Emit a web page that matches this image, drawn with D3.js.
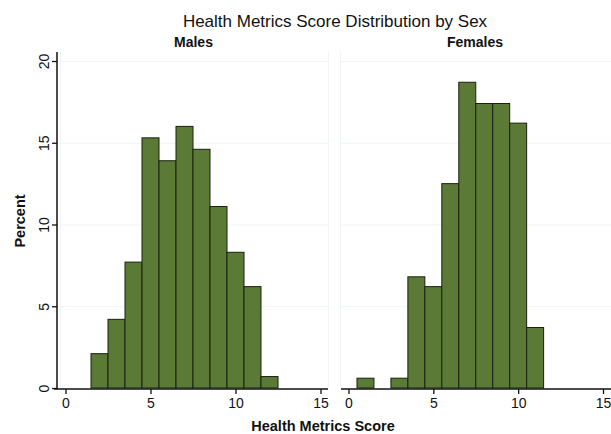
<!DOCTYPE html>
<html>
  <head>
    <meta charset="utf-8" />
    <script src="https://d3js.org/d3.v7.min.js"></script>
    <style>
        body { margin: 0; background: #fff; }
        text { font-family: "Liberation Sans", Arial, sans-serif; fill: #111; }
        .tick text { font-size: 14px; }
        .bar { fill: #5a7a35; stroke: #1b2012; stroke-width: 1; }
        .grid { stroke: #f1f5f5; stroke-width: 1; }
    </style>
  </head>
  <body>
    <script type="text/javascript">

        // histogram bins (score) and percent per sex
        var scoreBins = [1, 2, 3, 4, 5, 6, 7, 8, 9, 10, 11, 12];
        var malePct   = [0, 2.1, 4.2, 7.7, 15.3, 13.9, 16.0, 14.6, 11.1, 8.3, 6.2, 0.7];
        var femalePct = [0.6, 0, 0.6, 6.8, 6.2, 12.5, 18.7, 17.4, 17.4, 16.2, 3.7, 0];
        var panelNames = ["Males", "Females"];
        var xTicks = [0, 5, 10, 15];
        var yTicks = [0, 5, 10, 15, 20];

        var width = 611, height = 434;

        var svg = d3.select("body").append("svg")
            .attr("width", width)
            .attr("height", height);

        var y = d3.scaleLinear().domain([0, 20]).range([388, 61]);

        var panels = [
            { name: panelNames[0], vals: malePct,   x: d3.scaleLinear().domain([0, 15]).range([65.5, 320.5]), left: 60,  right: 328, axL: 54,  axR: 328 },
            { name: panelNames[1], vals: femalePct, x: d3.scaleLinear().domain([0, 15]).range([348.5, 603]),  left: 340, right: 611, axL: 341, axR: 611 }
        ];

        svg.append("text")
            .attr("x", 335).attr("y", 27)
            .attr("text-anchor", "middle")
            .style("font-size", "17px")
            .text("Health Metrics Score Distribution by Sex");

        panels.forEach(function(p) {
            var g = svg.append("g");

            // faint plot region + grid
            g.selectAll("line.grid")
                .data(yTicks.slice(1))
                .enter().append("line")
                .attr("class", "grid")
                .attr("x1", p.left).attr("x2", p.right)
                .attr("y1", function(d) { return y(d) + 0.5; })
                .attr("y2", function(d) { return y(d) + 0.5; });
            [p.left, p.right].forEach(function(xx) {
                g.append("line").attr("class", "grid")
                    .attr("x1", xx + 0.5).attr("x2", xx + 0.5)
                    .attr("y1", 52).attr("y2", 388);
            });

            var data = scoreBins.map(function(b, i) { return { bin: b, v: p.vals[i] }; })
                .filter(function(d) { return d.v > 0; });

            g.selectAll("rect.bar")
                .data(data)
                .enter().append("rect")
                .attr("class", "bar")
                .attr("x", function(d) { return p.x(d.bin - 0.5); })
                .attr("width", function(d) { return p.x(d.bin + 0.5) - p.x(d.bin - 0.5); })
                .attr("y", function(d) { return y(d.v); })
                .attr("height", function(d) { return y(0) - y(d.v); });

            var xAxis = g.append("g")
                .attr("transform", "translate(0," + (y(0) + 1) + ")")
                .call(d3.axisBottom(p.x).tickValues(xTicks).tickSize(5).tickPadding(4).tickFormat(d3.format("d")));
            xAxis.select(".domain").remove();
            xAxis.selectAll(".tick line").attr("stroke", "#111").attr("stroke-width", 1.3);
            xAxis.append("line")
                .attr("x1", p.axL).attr("x2", p.axR)
                .attr("y1", 0).attr("y2", 0)
                .attr("stroke", "#111").attr("stroke-width", 1.5);

            g.append("text")
                .attr("x", (p.left + p.right) / 2 - 0.5).attr("y", 47)
                .attr("text-anchor", "middle")
                .style("font-size", "14px").style("font-weight", "bold")
                .text(p.name);
        });

        // y axis, left panel only
        var yAxis = svg.append("g")
            .attr("transform", "translate(57,0)")
            .call(d3.axisLeft(y).tickValues(yTicks).tickSize(5).tickPadding(0));
        yAxis.select(".domain").remove();
        yAxis.selectAll(".tick line").attr("stroke", "#111").attr("stroke-width", 1.3);
        // labels turned on their side, baseline towards the axis
        yAxis.selectAll(".tick text")
            .attr("x", 0).attr("y", -8).attr("dy", 0)
            .attr("text-anchor", "middle")
            .attr("transform", "rotate(-90)");
        yAxis.append("line")
            .attr("x1", 0).attr("x2", 0)
            .attr("y1", 52).attr("y2", 389)
            .attr("stroke", "#111").attr("stroke-width", 1.5);

        svg.append("text")
            .attr("transform", "translate(25,221) rotate(-90)")
            .attr("text-anchor", "middle")
            .style("font-size", "14.5px").style("font-weight", "bold")
            .text("Percent");

        svg.append("text")
            .attr("x", 323).attr("y", 431)
            .attr("text-anchor", "middle")
            .style("font-size", "14.5px").style("font-weight", "bold")
            .text("Health Metrics Score");

    </script>
  </body>
</html>
